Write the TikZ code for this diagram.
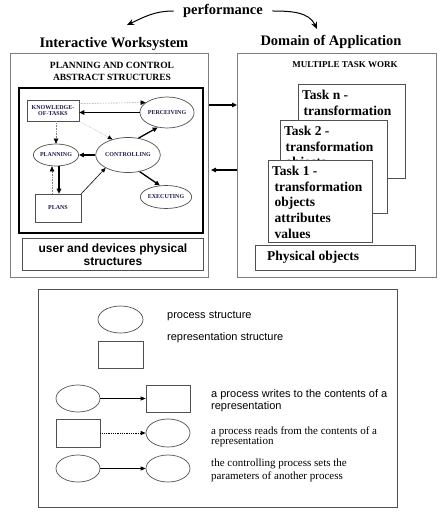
\documentclass[tikz,border=0pt]{standalone}
\usepackage{fontspec}
\setmainfont{Liberation Serif}
\setsansfont{Liberation Sans}
\usetikzlibrary{shapes.geometric,arrows.meta}
\definecolor{boxgray}{RGB}{125,125,125}
\definecolor{dgray}{RGB}{80,80,80}
\definecolor{navy}{RGB}{25,25,75}
\begin{document}
\begin{tikzpicture}[x=1pt,y=-1pt,
  proc/.style={ellipse,draw=dgray,line width=0.7pt,inner sep=0pt},
  rep/.style={rectangle,draw=dgray,line width=0.7pt,inner sep=0pt},
  tiny/.style={font=\fontsize{6}{6.5}\selectfont\bfseries,text=navy,align=center},
  wr/.style={line width=1.3pt,-{Triangle[length=5pt,width=4.5pt]}},
  thinw/.style={line width=0.6pt,-{Triangle[length=4.5pt,width=4pt]}},
  rd/.style={densely dotted,draw=gray,line width=0.6pt,-{Triangle[length=5pt,width=4.5pt,color=black]}},
  title/.style={font=\fontsize{14.5}{16}\selectfont\bfseries},
  outer/.style={rectangle,draw=boxgray,line width=1pt,inner sep=0pt,anchor=north west},
  task/.style={rectangle,draw=dgray,line width=0.8pt,fill=white,inner sep=0pt,anchor=north west},
  tasktext/.style={font=\fontsize{13.5}{15.7}\selectfont\bfseries,align=left,anchor=north west,inner sep=0pt},
  legs/.style={font=\sffamily\fontsize{11}{12}\selectfont,align=left,anchor=west,inner sep=0pt},
  legr/.style={font=\fontsize{11}{10.5}\selectfont,align=left,anchor=west,inner sep=0pt},
  legw/.style={line width=0.9pt,-{Triangle[length=5pt,width=4pt]}},
  legd/.style={densely dotted,line width=0.8pt,-{Triangle[length=5pt,width=4pt]}}
]
\useasboundingbox (0,0) rectangle (445,518);

% top
\node[title] (perf) at (223,11) {performance};
\coordinate (pl) at (127,25);
\coordinate (pr) at (317,29);
\draw[line width=1pt,-{Stealth[length=7pt,width=6pt]}] ([xshift=-6pt]perf.west) to[out=180,in=25] (pl);
\draw[line width=1pt,-{Stealth[length=7pt,width=6pt]}] ([xshift=6pt]perf.east) to[out=0,in=115] (pr);

\node[title] (iws) at (114,44) {Interactive Worksystem};
\node[title] (doa) at (331,42) {Domain of Application};

% outer boxes
\node[outer,minimum width=198,minimum height=224] (lbox) at (10,53) {};
\node[outer,minimum width=199,minimum height=224] (rbox) at (237,53) {};

\coordinate (ya) at (0,105);
\coordinate (yb) at (0,170);
\draw[wr] (lbox.east |- ya) -- (rbox.west |- ya);
\draw[wr] (rbox.west |- yb) -- ([xshift=2pt]lbox.east |- yb);

% left contents
\node[font=\fontsize{9.5}{12}\selectfont\bfseries,align=center] (pac) at (112,71) {PLANNING AND CONTROL\\ABSTRACT STRUCTURES};
\node[rectangle,draw=black,line width=2pt,inner sep=0pt,anchor=north west,minimum width=184,minimum height=145] (ibox) at (18,87) {};
\node[rectangle,draw=dgray,line width=0.9pt,inner sep=0pt,anchor=north west,minimum width=181,minimum height=32,
      font=\sffamily\fontsize{12}{13}\selectfont\bfseries,align=center] (ubox) at (22,238) {user and devices physical\\structures};

\node[rep,tiny,minimum width=52,minimum height=21] (know) at (53,110.5) {KNOWLEDGE-\\OF-TASKS};
\node[proc,tiny,minimum width=48,minimum height=31] (perc) at (167,112.5) {PERCEIVING};
\node[proc,tiny,minimum width=43,minimum height=22] (plann) at (56,155) {PLANNING};
\node[proc,tiny,minimum width=57,minimum height=35] (cont) at (128,155) {CONTROLLING};
\node[proc,tiny,minimum width=46,minimum height=23] (exec) at (166,197) {EXECUTING};
\node[rep,tiny,minimum width=46,minimum height=28] (plans) at (58,208) {PLANS};

\draw[rd] ([yshift=7pt]know.east) -- (perc.155);
\draw[wr] (perc.west) -- (perc.west -| know.east);
\draw[rd] (know.south -| plann.north) -- (plann.north);
\draw[rd,line width=0.4pt,-{Triangle[length=4.5pt,width=4pt,color=black]}] (know.south east) -- (cont.135);
\draw[wr] (cont.west) -- (plann.east);
\draw[wr] (cont.58) -- (perc.238);
\draw[wr] (cont.-55) -- (exec.118);
\draw[rd] ([xshift=-6pt]plans.north) -- ([xshift=-6pt]plans.north |- plann.south);
\draw[wr] ([xshift=3pt]plann.south) -- ([xshift=3pt]plann.south |- plans.north);
\draw[thinw] (plans.north east) -- (cont.210);

% right contents
\node[font=\fontsize{9}{11}\selectfont\bfseries] (mtw) at (345,65) {MULTIPLE TASK WORK};

\begin{scope}
\node[task,minimum width=107,minimum height=94] (tn) at (298,84) {};
\node[tasktext] (tnt) at (302,90) {Task n -\\\hspace{1.5pt}transformation\\\hspace{1.5pt}objects};
\node[task,minimum width=107,minimum height=93] (t2) at (280,120) {};
\node[tasktext] (t2t) at (284,126) {Task 2 -\\\hspace{1.5pt}transformation\\\hspace{1.5pt}objects};
\node[task,minimum width=104,minimum height=82] (t1) at (268,160) {};
\node[tasktext] (t1t) at (272,166) {Task 1 -\\\hspace{2.5pt}transformation\\\hspace{2.5pt}objects\\\hspace{2.5pt}attributes\\\hspace{2.5pt}values};
\end{scope}

\node[rectangle,draw=dgray,line width=0.9pt,inner sep=0pt,anchor=north west,minimum width=160,minimum height=25] (pbox) at (255,245) {};
\node[font=\fontsize{13.5}{15}\selectfont\bfseries,anchor=west,inner sep=0pt] (pobj) at (267,257.5) {Physical objects};

% legend
\node[rectangle,draw=dgray,line width=0.8pt,inner sep=0pt,anchor=north west,minimum width=359,minimum height=218] (leg) at (38,289) {};

\node[proc,minimum width=45,minimum height=27] (lp) at (120.5,319.5) {};
\node[rep,minimum width=45,minimum height=27] (lr) at (120.5,354.5) {};
\node[legs] (lpt) at (167,316) {process structure};
\node[legs] (lrt) at (167,338) {representation structure};

\node[proc,minimum width=44,minimum height=27] (e1) at (78,398.5) {};
\node[rep,minimum width=44,minimum height=27] (r1) at (168,398.5) {};
\draw[legw] (e1.east) -- (r1.west);
\node[legs] (t1l) at (211,401) {a process writes to the contents of a\\representation};

\node[rep,minimum width=44,minimum height=28] (r2) at (78,433) {};
\node[proc,minimum width=44,minimum height=28] (e2) at (168,433) {};
\draw[legd] (r2.east) -- (e2.west);
\node[legr] (t2l) at (211,437) {a process reads from the contents of a\\representation};

\node[proc,minimum width=44,minimum height=27] (e3) at (78,468.5) {};
\node[proc,minimum width=44,minimum height=27] (e4) at (168,468.5) {};
\draw[legw] (e3.east) -- (e4.west);
\node[legr,font=\fontsize{11}{13}\selectfont] (t3l) at (211,470) {the controlling process sets the\\parameters of another process};
\end{tikzpicture}
\end{document}
